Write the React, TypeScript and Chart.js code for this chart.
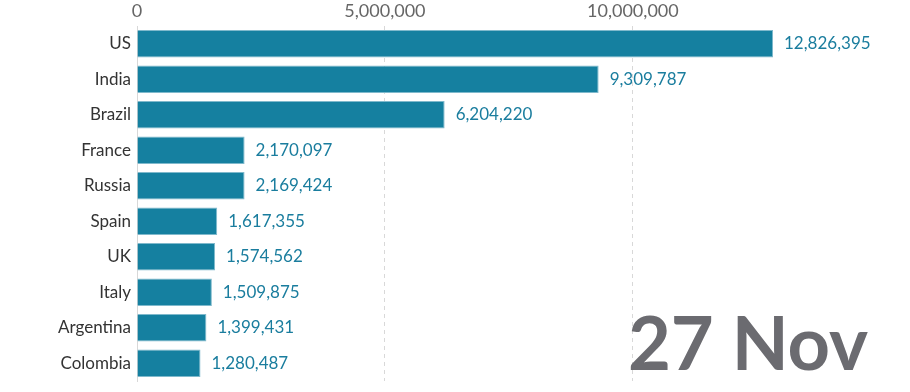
import React, { useEffect, useRef } from "react";
import { Chart, registerables } from "chart.js";

Chart.register(...registerables);

const countries = ["US", "India", "Brazil", "France", "Russia", "Spain", "UK", "Italy", "Argentina", "Colombia"];
const cases = [12826395, 9309787, 6204220, 2170097, 2169424, 1617355, 1574562, 1509875, 1399431, 1280487];
const tickValues = [0, 5000000, 10000000];
const dateLabel = "27 Nov";

const FONT = "Lato, 'Open Sans', sans-serif";
const BAR = "#1580a0";

const valueLabels = {
  id: "valueLabels",
  afterDatasetsDraw(chart: any) {
    const ctx = chart.ctx;
    const meta = chart.getDatasetMeta(0);
    ctx.save();
    ctx.font = `17px ${FONT}`;
    ctx.fillStyle = "#1a7d9e";
    ctx.textAlign = "left";
    ctx.textBaseline = "middle";
    meta.data.forEach((el: any, i: number) => {
      ctx.fillText(cases[i].toLocaleString("en-US"), el.x + 11, el.y);
    });
    ctx.restore();
  },
};

const dateStamp = {
  id: "dateStamp",
  afterDraw(chart: any) {
    const ctx = chart.ctx;
    ctx.save();
    ctx.font = `bold 74px ${FONT}`;
    ctx.fillStyle = "#6b6b70";
    ctx.textAlign = "right";
    ctx.textBaseline = "alphabetic";
    ctx.fillText(dateLabel, 868, 370);
    ctx.restore();
  },
};

export default function App() {
  const ref = useRef<HTMLCanvasElement>(null);
  useEffect(() => {
    document.body.style.margin = "0";
    const chart = new Chart(ref.current!, {
      type: "bar",
      data: {
        labels: countries,
        datasets: [
          {
            data: cases,
            backgroundColor: BAR,
            borderColor: "#7fb9cc",
            borderWidth: 1,
            categoryPercentage: 1,
            barPercentage: 0.77,
          },
        ],
      },
      options: {
        indexAxis: "y",
        animation: false,
        responsive: false,
        maintainAspectRatio: false,
        layout: { padding: { top: 0, right: 54, bottom: 11, left: 0 } },
        plugins: { legend: { display: false }, tooltip: { enabled: false } },
        scales: {
          x: {
            position: "top",
            min: 0,
            max: 14500000,
            afterBuildTicks(scale: any) {
              scale.ticks = tickValues.map((v) => ({ value: v }));
            },
            afterFit(scale: any) {
              scale.height = 26;
              scale.paddingLeft = 0;
              scale.paddingRight = 0;
            },
            ticks: {
              color: "#666",
              font: { family: FONT, size: 18 },
              padding: 4,
              callback: (v: any) => Number(v).toLocaleString("en-US"),
            },
            grid: {
              color: (c: any) => (c.tick && c.tick.value === 0 ? "rgba(0,0,0,0)" : "#d8d8d8"),
              drawTicks: false,
              lineWidth: 1,
            },
            border: { display: false, dash: [4, 4] },
          },
          y: {
            afterFit(scale: any) {
              scale.width = 137;
              scale.paddingTop = 0;
              scale.paddingBottom = 0;
            },
            ticks: {
              color: "#333",
              font: { family: FONT, size: 17 },
              padding: 6,
            },
            grid: { display: false, drawTicks: false },
            border: { display: true, color: "#d8d8d8", width: 1 },
          },
        },
      },
      plugins: [valueLabels, dateStamp],
    } as any);
    return () => chart.destroy();
  }, []);
  return (
    <div style={{ width: 910, height: 392, overflow: "hidden" }}>
      <canvas ref={ref} width={910} height={392} />
    </div>
  );
}
